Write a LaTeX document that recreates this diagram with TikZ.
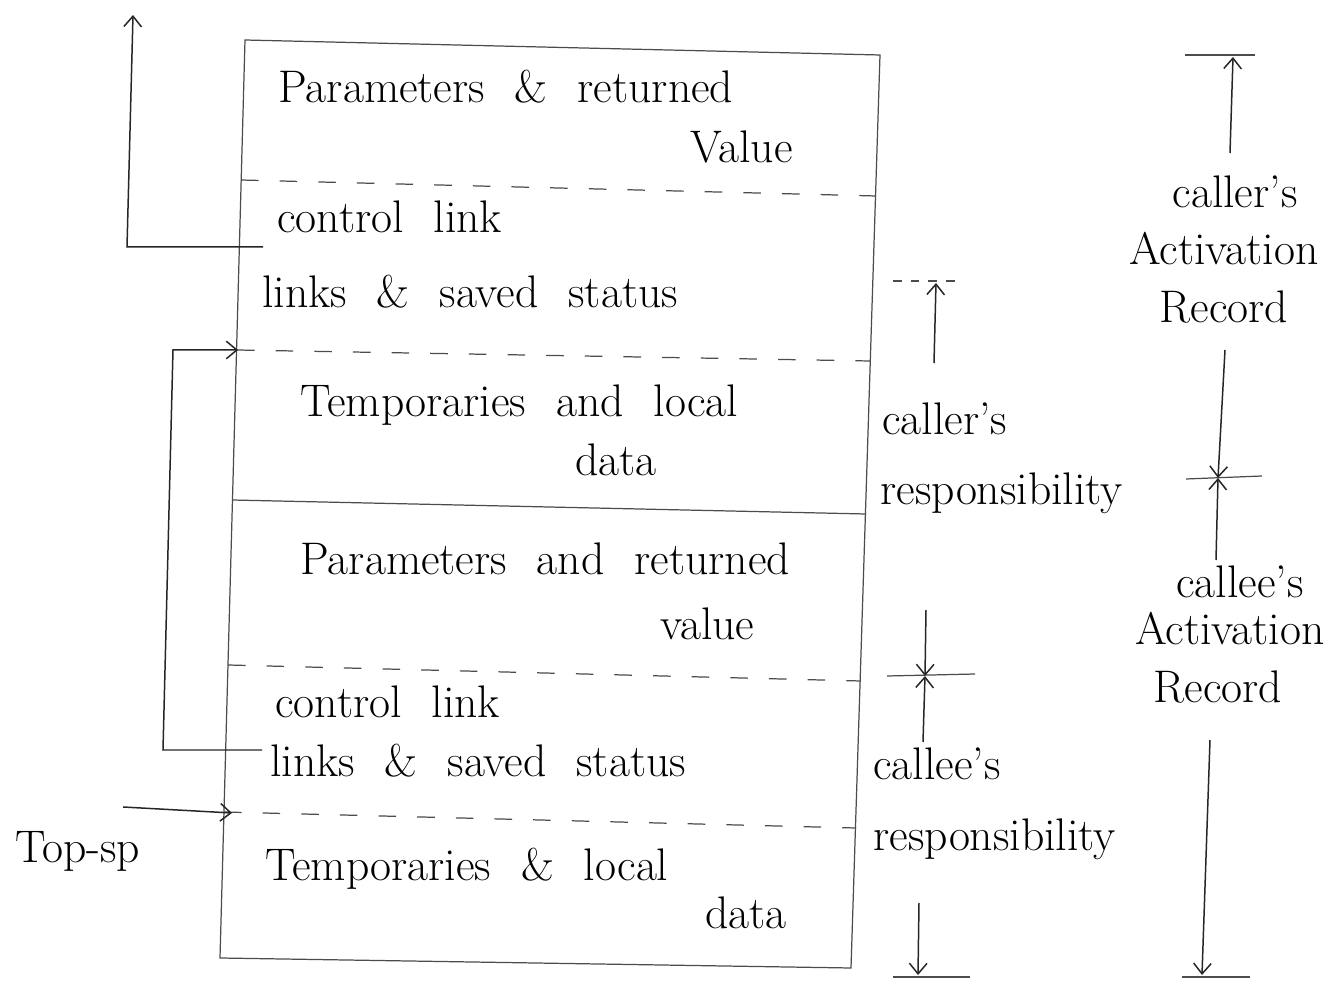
\documentclass[tikz,border=0pt]{standalone}
\usetikzlibrary{arrows.meta}
\newcommand{\handfont}{\fontsize{26}{31}\selectfont\spaceskip=17pt plus 2pt minus 2pt\relax}
\tikzset{
  pencil/.style={line width=0.7pt, draw=black!70},
  pen/.style={line width=0.85pt, draw=black!85},
  divider/.style={pencil, dash pattern=on 10pt off 12pt},
  shortdash/.style={pencil, dash pattern=on 5pt off 5pt},
  barb/.style={-{Straight Barb[length=6pt,width=10pt]}},
  lbl/.style={font=\handfont, inner sep=0pt, anchor=base west},
  clbl/.style={lbl, anchor=base},
}
\begin{document}
\begin{tikzpicture}[x=0.02cm, y=-0.02cm]
\useasboundingbox (0,0) rectangle (1326,989);

% stack frame outline
\coordinate (tl) at (245,40);
\coordinate (tr) at (880,55);
\coordinate (br) at (851,968);
\coordinate (bl) at (220,958);
\draw[pencil] (tl) -- (tr) -- (br) -- (bl) -- cycle;

% field separators
\draw[divider] (241,180) -- (876,196);
\draw[divider] (237,350) -- (870,361);
\draw[pencil]  (232,500) -- (866,514);
\draw[divider] (228,665) -- (861,681);
\draw[divider] (224,812) -- (856,828);

% field contents
\node[lbl] (p1)  at (278,103) {Parameters \& returned};
\node[lbl] (v1)  at (690,163) {Value};
\node[lbl] (c1)  at (277,233) {control link};
\node[lbl] (l1)  at (262,308) {links \& saved status};
\node[lbl] (t1)  at (300,417) {Temporaries and local};
\node[lbl] (dt1) at (575,476) {data};
\node[lbl] (p2)  at (300,575) {Parameters and returned};
\node[lbl] (v2)  at (660,640) {value};
\node[lbl] (c2)  at (275,718) {control link};
\node[lbl] (l2)  at (270,776) {links \& saved status};
\node[lbl] (t2)  at (265,880) {Temporaries \& local};
\node[lbl] (dt2) at (705,928) {data};
\node[lbl] (tsp) at (15,862)  {Top-sp};

% control link of the caller
\coordinate (ca) at (263,247);
\coordinate (cb) at (127,247);
\coordinate (cc) at (133,15);
\draw[pen,barb] (ca) -- (cb) -- (cc);

% control link of the callee
\coordinate (da) at (262,750);
\coordinate (db) at (163,750);
\coordinate (dc) at (173,350);
\coordinate (dd) at (238,350);
\draw[pen,barb] (da) -- (db) -- (dc) -- (dd);

% top_sp pointer
\coordinate (ta) at (123,807);
\coordinate (tb) at (232,813);
\draw[pen,barb] (ta) -- (tb);

% responsibility column
\node[lbl] (cr1) at (882,435) {caller's};
\node[lbl] (cr2) at (880,505) {responsibility};
\node[lbl] (ce1) at (873,780) {callee's};
\node[lbl] (ce2) at (873,850) {responsibility};

\coordinate (ra0) at (893,281);
\coordinate (ra1) at (963,281);
\draw[shortdash] (ra0) -- (ra1);
\coordinate (rs) at (934,363);
\coordinate (rt) at (936,283);
\draw[pen,barb] (rs) -- (rt);

\coordinate (rx) at (925,676);
\coordinate (rxa) at (926,610);
\coordinate (rxb) at (923,742);
\draw[pencil] (887,676) -- (975,674);
\draw[pen,barb] (rxa) -- (rx);
\draw[pen,barb] (rxb) -- (rx);

\coordinate (rbs) at (919,903);
\coordinate (rbt) at (918,975);
\draw[pencil] (893,977) -- (970,977);
\draw[pen,barb] (rbs) -- (rbt);

% activation record column
\node[clbl] (ar1) at (1235,208) {caller's};
\node[clbl] (ar2) at (1224,265) {Activation};
\node[clbl] (ar3) at (1224,323) {Record};
\node[clbl] (ar4) at (1240,598) {callee's};
\node[clbl] (ar5) at (1230,645) {Activation};
\node[clbl] (ar6) at (1218,703) {Record};

\draw[pencil] (1185,55) -- (1255,55);
\coordinate (as) at (1230,153);
\coordinate (at) at (1233,57);
\draw[pen,barb] (as) -- (at);

\coordinate (ax) at (1218,478);
\coordinate (axa) at (1225,350);
\coordinate (axb) at (1216,560);
\draw[pencil] (1186,479) -- (1262,476);
\draw[pen,barb] (axa) -- (ax);
\draw[pen,barb] (axb) -- (ax);

\coordinate (abs) at (1210,740);
\coordinate (abt) at (1202,975);
\draw[pencil] (1182,977) -- (1250,977);
\draw[pen,barb] (abs) -- (abt);
\end{tikzpicture}
\end{document}
